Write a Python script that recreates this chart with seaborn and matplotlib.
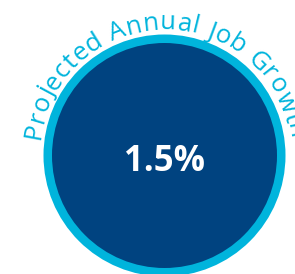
import numpy as np
import seaborn as sns
import matplotlib.pyplot as plt
from matplotlib.patches import Circle
from matplotlib.font_manager import FontProperties, findfont
from matplotlib.ft2font import FT2Font

# --- Data ---
metric_label = "Projected Annual Job Growth"
metric_value = [1.5]
value_format = "{:.1f}%"

# --- Style ---
DARK_BLUE = "#004380"
CYAN = "#00b4dc"
W, H, DPI = 295, 274, 100

sns.set_theme(style="white")
plt.rcParams['font.family'] = ['Open Sans', 'DejaVu Sans']

fig = plt.figure(figsize=(W / DPI, H / DPI), dpi=DPI)
ax = fig.add_axes([0, 0, 1, 1])
ax.set_xlim(0, W)
ax.set_ylim(0, H)
ax.axis('off')

# circle geometry (pixel units, y up)
cx, cy = 164.5, H - 155.5
r_outer, r_inner = 121.0, 112.5
ax.add_patch(Circle((cx, cy), r_outer, color=CYAN, lw=0))
ax.add_patch(Circle((cx, cy), r_inner, color=DARK_BLUE, lw=0))

# central value
ax.text(cx + 0.5, H - 171, value_format.format(metric_value[0]), color="white",
        fontsize=25, fontweight='bold', ha='center', va='baseline')

# curved label along the top of the ring
arc_fs = 18.5
arc_r = 126.0
tracking = 0.7  # extra px between letters
fp = FontProperties(family='Open Sans', size=arc_fs)
ft = FT2Font(findfont(fp))
ft.set_size(arc_fs, DPI)
adv = [ft.load_char(ord(c)).linearHoriAdvance / 65536 + tracking for c in metric_label]
total = sum(adv)
mid_angle = np.deg2rad(90)
pos = 0.0
for ch, a in zip(metric_label, adv):
    s = pos + a / 2 - total / 2
    th = mid_angle - s / arc_r
    x = cx + arc_r * np.cos(th)
    y = cy + arc_r * np.sin(th)
    ax.text(x, y, ch, fontproperties=fp, color=CYAN, ha='center', va='baseline',
            rotation=np.rad2deg(th) - 90, rotation_mode='anchor')
    pos += a

fig.savefig("out.png", dpi=DPI, facecolor="white")
